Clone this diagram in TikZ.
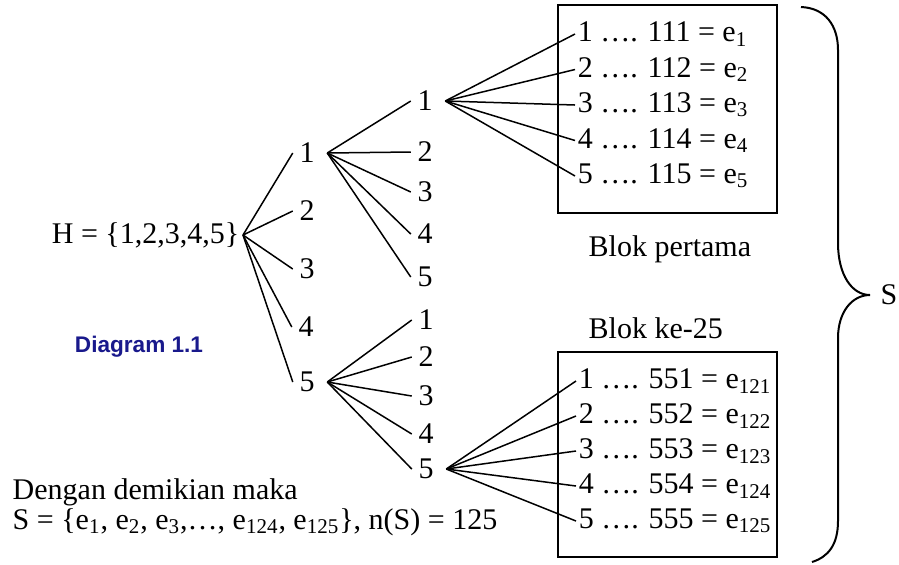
\documentclass[tikz,border=0pt]{standalone}
\usepackage{fontspec}
\setmainfont{Liberation Serif}
\setsansfont{Liberation Sans}
\usepackage{xcolor}
\definecolor{colorCaption}{RGB}{25,25,140}
\usepackage{tikz}
\usetikzlibrary{positioning}
\tikzset{num/.style={inner xsep=3pt, inner ysep=1pt},
  item/.style={anchor=west, inner xsep=1pt, inner ysep=1pt},
  blok/.style={draw, line width=0.75pt, minimum width=109.5pt}}

\begin{document}
\begin{tikzpicture}[x=0.5pt, y=-0.5pt, line width=0.75pt, every node/.style={font=\fontsize{15}{18}\selectfont}]
\useasboundingbox (0,0) rectangle (899,564);
% root of the tree
\node[anchor=east, inner sep=1.5pt] (H) at (243,235) {H = \{1,2,3,4,5\}};
\node[font=\sffamily\bfseries\fontsize{11.3}{13}\selectfont, text=colorCaption] (caption) at (139,347) {Diagram 1.1};
% first digit
\node[num] (a1) at (307,153) {1};
\node[num] (a2) at (307,211) {2};
\node[num] (a3) at (307,269) {3};
\node[num] (a4) at (306,327) {4};
\node[num] (a5) at (307,382) {5};
% second digit
\node[num] (b1) at (425,101) {1};
\node[num] (b2) at (425,152) {2};
\node[num] (b3) at (425,192) {3};
\node[num] (b4) at (425,234) {4};
\node[num] (b5) at (425,277) {5};
\node[num] (c1) at (426,320) {1};
\node[num] (c2) at (426,357) {2};
\node[num] (c3) at (426,396) {3};
\node[num] (c4) at (426,434) {4};
\node[num] (c5) at (426,469) {5};
% the two blocks
\node[blok, minimum height=104pt] (box1) at (667.5,109) {};
\node[blok, minimum height=102.5pt] (box2) at (667.5,454.5) {};
\node[item] (t1) at (575,34) {1 …. 111 = e\textsubscript{1}};
\node[item] (t2) at (575,69.5) {2 …. 112 = e\textsubscript{2}};
\node[item] (t3) at (575,105) {3 …. 113 = e\textsubscript{3}};
\node[item] (t4) at (575,140.5) {4 …. 114 = e\textsubscript{4}};
\node[item] (t5) at (575,176) {5 …. 115 = e\textsubscript{5}};
\node[item] (u1) at (576,381) {1 …. 551 = e\textsubscript{121}};
\node[item] (u2) at (576,416) {2 …. 552 = e\textsubscript{122}};
\node[item] (u3) at (576,451) {3 …. 553 = e\textsubscript{123}};
\node[item] (u4) at (576,486) {4 …. 554 = e\textsubscript{124}};
\node[item] (u5) at (576,521) {5 …. 555 = e\textsubscript{125}};
\node[below right=7.5pt and 12pt of box1.south west] (blok1) {Blok pertama};
\node[above right=2.5pt and 12pt of box2.north west] (blok25) {Blok ke-25};
% conclusion
\node[anchor=base west, inner sep=0pt] (kesimpulan) at (12,499) {Dengan demikian maka};
\node[anchor=base west, inner sep=0pt] (himpunanS) at (12,529) {S = \{e\textsubscript{1}, e\textsubscript{2}, e\textsubscript{3},…, e\textsubscript{124}, e\textsubscript{125}\}, n(S) = 125};
\node (S) at (889,295) {S};
% branches
\draw (H.east) -- (a1.west);
\draw (H.east) -- (a2.west);
\draw (H.east) -- (a3.west);
\draw (H.east) -- (a4.west);
\draw (H.east) -- (a5.west);
\draw ([xshift=3pt]a1.east) -- (b1.west);
\draw ([xshift=3pt]a1.east) -- (b2.west);
\draw ([xshift=3pt]a1.east) -- (b3.west);
\draw ([xshift=3pt]a1.east) -- (b4.west);
\draw ([xshift=3pt]a1.east) -- (b5.west);
\draw ([xshift=3pt]a5.east) -- (c1.west);
\draw ([xshift=3pt]a5.east) -- (c2.west);
\draw ([xshift=3pt]a5.east) -- (c3.west);
\draw ([xshift=3pt]a5.east) -- (c4.west);
\draw ([xshift=3pt]a5.east) -- (c5.west);
\draw ([xshift=3pt]b1.east) -- (t1.west);
\draw ([xshift=3pt]b1.east) -- (t2.west);
\draw ([xshift=3pt]b1.east) -- (t3.west);
\draw ([xshift=3pt]b1.east) -- (t4.west);
\draw ([xshift=3pt]b1.east) -- (t5.west);
\draw ([xshift=3pt]c5.east) -- (u1.west);
\draw ([xshift=3pt]c5.east) -- (u2.west);
\draw ([xshift=3pt]c5.east) -- (u3.west);
\draw ([xshift=3pt]c5.east) -- (u4.west);
\draw ([xshift=3pt]c5.east) -- (u5.west);
% big brace
\draw[line width=1pt] (801,7) .. controls (825,8) and (838,25) .. (838,50) -- (838,243)
  .. controls (838,275) and (852,295) .. (870,295) .. controls (852,295) and (838,312) .. (838,338)
  -- (838,521) .. controls (838,545) and (828,557) .. (812,562);
\end{tikzpicture}
\end{document}
